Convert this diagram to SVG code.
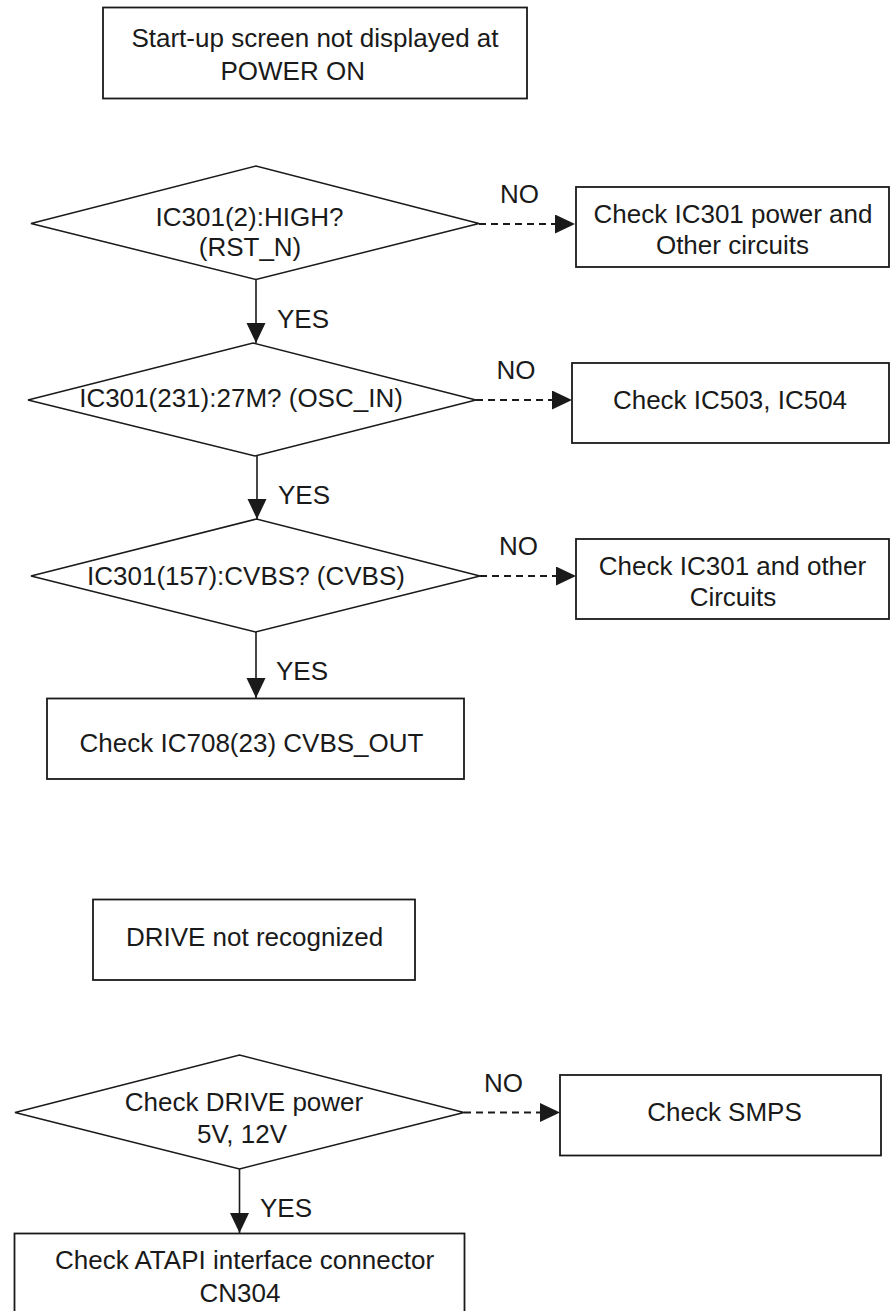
<svg xmlns="http://www.w3.org/2000/svg" width="890" height="1311" viewBox="0 0 890 1311">
<style>
.box{fill:#fff;stroke:#1a1a1a;stroke-width:1.8}
.dia{fill:#fff;stroke:#1a1a1a;stroke-width:1.5}
text{font-family:"Liberation Sans",Arial,sans-serif;font-size:26px;fill:#1a1a1a}
.c{text-anchor:middle}
.yes{stroke:#1a1a1a;stroke-width:1.6;fill:none}
.no{stroke:#1a1a1a;stroke-width:2;fill:none;stroke-dasharray:7 5}
</style>
<defs>
<marker id="ah" markerUnits="userSpaceOnUse" markerWidth="22" markerHeight="22" refX="20" refY="9.5" orient="auto">
<path d="M0,0 L20,9.5 L0,19 z" fill="#1a1a1a"/>
</marker>
</defs>
<rect width="890" height="1311" fill="#fff"/>
<g id="connectors">
<line class="yes" x1="256" y1="279.5" x2="256" y2="343" marker-end="url(#ah)"/>
<line class="no" x1="479" y1="224" x2="575" y2="224" marker-end="url(#ah)"/>
<line class="yes" x1="257" y1="456" x2="257" y2="519" marker-end="url(#ah)"/>
<line class="no" x1="476" y1="400" x2="572" y2="400" marker-end="url(#ah)"/>
<line class="yes" x1="256" y1="632" x2="256" y2="698" marker-end="url(#ah)"/>
<line class="no" x1="480" y1="576" x2="576" y2="576" marker-end="url(#ah)"/>
<line class="yes" x1="239.5" y1="1169" x2="239.5" y2="1233" marker-end="url(#ah)"/>
<line class="no" x1="464" y1="1112.5" x2="560" y2="1112.5" marker-end="url(#ah)"/>
<text x="277" y="328">YES</text>
<text class="c" x="519.5" y="203">NO</text>
<text x="278" y="504">YES</text>
<text class="c" x="516" y="379">NO</text>
<text x="276" y="680">YES</text>
<text class="c" x="518.5" y="555">NO</text>
<text x="260" y="1216.5">YES</text>
<text class="c" x="503.5" y="1091.5">NO</text>
</g>
<g id="start">
<rect class="box" x="103" y="7.5" width="424" height="91"/>
<text class="c" x="315" y="46.5">Start-up screen not displayed at</text>
<text x="220.5" y="79.5">POWER ON</text>
</g>
<g id="d1">
<polygon class="dia" points="31,223.5 256,166 479,223.5 256,279.5"/>
<text class="c" x="249.5" y="226">IC301(2):HIGH?</text>
<text class="c" x="250" y="256">(RST_N)</text>
</g>
<g id="b1">
<rect class="box" x="576" y="187" width="313" height="80"/>
<text class="c" x="733" y="222.5">Check IC301 power and</text>
<text class="c" x="732.5" y="254">Other circuits</text>
</g>
<g id="d2">
<polygon class="dia" points="28,400 253,343 476,400 255,456"/>
<text class="c" x="241" y="407">IC301(231):27M? (OSC_IN)</text>
</g>
<g id="b2">
<rect class="box" x="572" y="363" width="317" height="80"/>
<text class="c" x="730" y="409">Check IC503, IC504</text>
</g>
<g id="d3">
<polygon class="dia" points="31,576 256.5,519 480,576 255.5,632"/>
<text class="c" x="246" y="585">IC301(157):CVBS? (CVBS)</text>
</g>
<g id="b3">
<rect class="box" x="576" y="539" width="313" height="80"/>
<text class="c" x="732.5" y="575">Check IC301 and other</text>
<text class="c" x="733" y="606">Circuits</text>
</g>
<g id="b4">
<rect class="box" x="47" y="698.5" width="417" height="80.5"/>
<text class="c" x="251.5" y="751.5">Check IC708(23) CVBS_OUT</text>
</g>
<g id="drive">
<rect class="box" x="93" y="899.5" width="322" height="80.5"/>
<text class="c" x="254.5" y="946">DRIVE not recognized</text>
</g>
<g id="d4">
<polygon class="dia" points="15,1112.5 239.5,1055 464,1112.5 239.5,1169"/>
<text class="c" x="244" y="1110.5">Check DRIVE power</text>
<text class="c" x="242" y="1142.5">5V, 12V</text>
</g>
<g id="b6">
<rect class="box" x="560" y="1075" width="321" height="80.5"/>
<text class="c" x="724.5" y="1120.5">Check SMPS</text>
</g>
<g id="b7">
<rect class="box" x="14.5" y="1233.5" width="450" height="80"/>
<text class="c" x="244.5" y="1269">Check ATAPI interface connector</text>
<text class="c" x="240" y="1302">CN304</text>
</g>
</svg>
